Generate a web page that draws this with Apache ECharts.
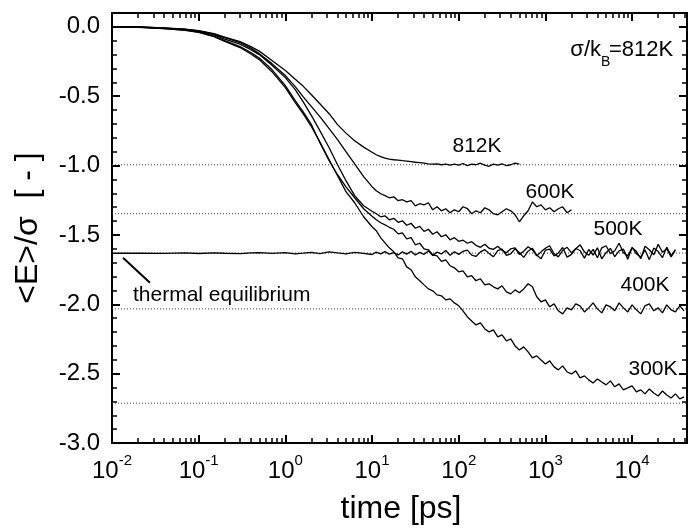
<!DOCTYPE html>
<html><head><meta charset="utf-8">
<script src="https://cdn.jsdelivr.net/npm/echarts@6/dist/echarts.min.js"></script>
<style>html,body{margin:0;padding:0;background:#fff}#c{width:688px;height:530px}</style>
</head><body><div id="c"></div>
<script>
// time grid [ps]
const times = [0.01,0.02,0.04,0.07,0.1,0.15,0.2,0.3,0.4,0.5,0.7,1,1.3,1.6,2,2.5,3.2,4,5,6.3,8,
10,11.2,12.6,14.1,15.8,17.8,20,22.4,25.1,28.2,31.6,35.5,39.8,44.7,50.1,56.2,63.1,70.8,79.4,89.1,
100,112,126,141,158,178,200,224,251,282,316,355,398,447,501,562,631,708,794,891,
1000,1120,1260,1410,1580,1780,2000,2240,2510,2820,3160,3550,3980,4470,5010,5620,6310,7080,7940,8910,
10000,11200,12600,14100,15800,17800,20000,22400,25100,28200,31600,35500,39800];

const e812 = [0,-0.001,-0.007,-0.016,-0.027,-0.048,-0.074,-0.106,-0.142,-0.175,-0.243,-0.315,-0.377,-0.427,-0.489,-0.554,-0.626,-0.705,-0.766,-0.821,-0.867,
-0.904,-0.922,-0.936,-0.947,-0.954,-0.958,-0.961,-0.965,-0.968,-0.972,-0.976,-0.979,-0.983,-0.987,-0.990,-0.987,-0.994,-0.990,-0.997,-0.990,
-0.997,-0.985,-1.001,-0.990,-0.994,-0.983,-0.997,-1.005,-0.990,-0.997,-0.987,-1.001,-0.994,-0.983,-0.990];

const e600 = [0,-0.001,-0.009,-0.018,-0.029,-0.052,-0.077,-0.113,-0.153,-0.193,-0.265,-0.351,-0.431,-0.503,-0.575,-0.647,-0.734,-0.813,-0.900,-0.987,-1.080,
-1.152,-1.181,-1.203,-1.217,
-1.232,-1.225,-1.253,-1.246,-1.262,-1.253,-1.290,-1.275,-1.283,-1.268,
-1.319,-1.297,-1.326,-1.311,-1.340,-1.319,-1.333,-1.297,-1.311,-1.347,
-1.326,-1.340,-1.304,-1.319,-1.347,-1.355,-1.333,-1.311,-1.326,-1.355,
-1.405,-1.362,-1.326,-1.262,-1.297,-1.283,-1.319,-1.304,-1.333,-1.311,
-1.297,-1.340,-1.319];

const e500 = [0,-0.001,-0.009,-0.019,-0.032,-0.058,-0.088,-0.124,-0.164,-0.200,-0.276,-0.366,-0.452,-0.539,-0.640,-0.748,-0.871,-0.994,-1.109,-1.217,-1.290,
-1.329,-1.347,-1.369,-1.362,-1.391,-1.380,-1.409,-1.398,-1.430,-1.416,-1.452,-1.438,-1.474,-1.459,-1.495,-1.477,-1.513,-1.499,-1.535,
-1.520,-1.546,-1.538,-1.560,-1.549,-1.575,-1.589,-1.567,-1.596,-1.604,
-1.582,-1.611,-1.629,-1.600,-1.593,-1.640,-1.618,-1.585,-1.607,-1.651,
-1.622,-1.596,-1.578,-1.636,-1.658,-1.611,-1.589,-1.629,-1.600,-1.571,
-1.622,-1.647,-1.604,-1.665,-1.593,-1.578,-1.636,-1.614,-1.560,-1.629,
-1.651,-1.593,-1.618,-1.672,-1.582,-1.607,-1.643,-1.567,-1.625,-1.600,
-1.658,-1.611];

const eThermal = [-1.632,-1.631,-1.633,-1.630,-1.634,-1.629,-1.632,-1.635,-1.630,-1.627,-1.633,-1.628,-1.636,-1.631,-1.625,-1.634,-1.622,-1.630,-1.637,-1.626,-1.633,
-1.641,-1.624,-1.636,-1.620,-1.639,-1.627,-1.644,-1.622,-1.638,-1.618,-1.645,-1.626,-1.640,-1.615,-1.648,-1.624,-1.637,-1.612,-1.646,-1.621,
-1.640,-1.618,-1.609,-1.645,-1.655,-1.622,-1.606,-1.633,-1.658,-1.613,
-1.603,-1.647,-1.636,-1.600,-1.628,-1.662,-1.617,-1.596,-1.645,-1.671,
-1.610,-1.603,-1.652,-1.630,-1.590,-1.660,-1.640,-1.598,-1.612,-1.667,
-1.605,-1.645,-1.593,-1.672,-1.628,-1.597,-1.657,-1.615,-1.602,-1.675,
-1.590,-1.636,-1.660,-1.608,-1.678,-1.595,-1.620,-1.664,-1.588,-1.650,
-1.605];

const e400 = [0,-0.002,-0.012,-0.024,-0.038,-0.066,-0.099,-0.142,-0.185,-0.225,-0.308,-0.424,-0.532,-0.611,-0.705,-0.835,-0.965,-1.066,-1.153,-1.232,-1.311,
-1.365,-1.390,-1.412,-1.427,-1.445,-1.459,-1.492,-1.485,-1.528,-1.520,-1.571,-1.560,-1.600,-1.607,-1.643,-1.651,-1.690,-1.679,-1.722,-1.737,
-1.766,-1.759,-1.802,-1.794,-1.830,-1.816,-1.860,-1.852,-1.874,-1.889,-1.867,-1.910,-1.925,-1.896,-1.917,-1.889,-1.852,-1.874,-1.946,-1.982,
-1.968,-2.018,-1.997,-2.047,-2.069,-2.026,-2.040,-1.997,-2.011,-2.055,-2.026,-1.990,-2.033,-2.062,-2.004,-2.018,-2.047,-1.990,-2.026,-2.055,
-2.004,-2.040,-2.069,-2.011,-1.997,-2.047,-2.026,-2.062,-2.004,-2.040,-2.055,-2.011,-2.047];

const e300 = [0,-0.003,-0.012,-0.025,-0.040,-0.070,-0.105,-0.149,-0.196,-0.236,-0.323,-0.438,-0.546,-0.626,-0.720,-0.828,-0.958,-1.073,-1.188,-1.268,-1.369,
-1.441,-1.470,-1.521,-1.557,-1.593,-1.622,-1.665,-1.672,-1.730,-1.751,-1.802,-1.830,-1.860,-1.889,-1.903,-1.932,-1.939,-1.968,-1.961,-1.990,
-2.011,-2.047,-2.091,-2.120,-2.149,-2.134,-2.178,-2.199,-2.185,-2.235,-2.221,-2.264,-2.250,-2.300,-2.329,-2.307,-2.343,-2.386,-2.372,-2.401,
-2.430,-2.408,-2.451,-2.473,-2.444,-2.488,-2.502,-2.480,-2.531,-2.516,-2.545,-2.567,-2.538,-2.560,-2.581,-2.552,-2.595,-2.574,-2.617,-2.603,
-2.588,-2.632,-2.617,-2.646,-2.610,-2.639,-2.661,-2.625,-2.654,-2.675,-2.646,-2.682,-2.668];

// equilibrium energies (dotted reference lines)
const eqLevels = [-0.994, -1.347, -1.631, -2.033, -2.713];
const curveNames = ['812K', '600K', '500K', '400K', '300K'];
const xDecades = [0.01, 0.1, 1, 10, 100, 1000, 10000];
const xRange = [0.01, 43000];
const yRange = [-3.0, 0.1];
const yStep = 0.5;
const arrowFrom = [0.0134, -1.665];
const arrowTo = [0.0274, -1.845];

const FONT = '"Liberation Sans", Arial, Helvetica, sans-serif';

function pairs(arr) {
  const out = [];
  for (let i = 0; i < arr.length; i++) if (arr[i] !== null) out.push([times[i], arr[i]]);
  return out;
}
function xLab(v) {
  const e = Math.log10(v); const r = Math.round(e);
  if (Math.abs(e - r) > 1e-6) return '';
  return '{b|10}{s|' + r + '}';
}
function yLab(v) {
  const k = Math.round(v / yStep);
  if (Math.abs(v - k * yStep) > 1e-6) return '';
  return (Math.abs(v) < 1e-9 ? 0 : v).toFixed(1);
}

const solid = { color: '#000', width: 1.3 };
const xBase = {
  type: 'log', logBase: 10, min: xRange[0], max: xRange[1], gridIndex: 0,
  splitLine: { show: false },
  axisLine: { show: true, onZero: false, lineStyle: { color: '#000', width: 2 } },
  axisTick: { show: true, inside: true, length: 8, lineStyle: { color: '#000', width: 2 } },
  minorTick: { show: true, splitNumber: 9, length: 5, lineStyle: { color: '#000', width: 1.5 } }
};
const yBase = {
  type: 'value', min: yRange[0], max: yRange[1], interval: yStep, gridIndex: 0,
  splitLine: { show: false },
  axisLine: { show: true, onZero: false, lineStyle: { color: '#000', width: 2 } },
  axisTick: { show: true, inside: true, length: 8, lineStyle: { color: '#000', width: 2 } },
  minorTick: { show: true, splitNumber: 5, length: 5, lineStyle: { color: '#000', width: 1.5 } }
};

const series = [];
eqLevels.forEach(function (lv) {
  series.push({ type: 'line', symbol: 'none', silent: true, z: 1,
    data: [[xRange[0], lv], [xRange[1], lv]],
    lineStyle: { color: '#444', width: 1, type: [1, 2] } });
});
series.push({ name: 'thermal', type: 'line', symbol: 'none', silent: true, z: 3,
  data: pairs(eThermal), lineStyle: solid,
  markLine: { silent: true, symbol: ['none', 'none'], label: { show: false },
    lineStyle: { color: '#000', width: 2, type: 'solid' },
    data: [[{ coord: arrowFrom }, { coord: arrowTo }]] } });
[e812, e600, e500, e400, e300].forEach(function (arr, i) {
  series.push({ name: curveNames[i], type: 'line', symbol: 'none', silent: true, z: 3,
    data: pairs(arr), lineStyle: solid });
});

function txt(x, y, s, size, align, extra) {
  return Object.assign({ type: 'text', x: x, y: y, z: 100,
    style: { text: s, font: size + 'px ' + FONT, fill: '#000',
      align: align || 'center', verticalAlign: 'middle',
      textAlign: align || 'center', textVerticalAlign: 'middle' } }, extra || {});
}

const chart = echarts.init(document.getElementById('c'), null, { renderer: 'canvas' });
chart.setOption({
  animation: false,
  backgroundColor: '#fff',
  grid: { left: 112, right: 1, top: 13, bottom: 87, containLabel: false, outerBoundsMode: 'none' },
  xAxis: [
    Object.assign({}, xBase, { position: 'bottom',
      axisLabel: { customValues: xDecades, formatter: xLab, margin: 10, color: '#000', fontFamily: FONT,
        rich: { b: { fontSize: 24, fontFamily: FONT, lineHeight: 30, verticalAlign: 'bottom' },
                s: { fontSize: 15, fontFamily: FONT, lineHeight: 30, verticalAlign: 'top' } } } }),
    Object.assign({}, xBase, { position: 'top', axisLabel: { show: false } })
  ],
  yAxis: [
    Object.assign({}, yBase, { position: 'left',
      axisLabel: { formatter: yLab, showMaxLabel: false, margin: 12, fontSize: 24, color: '#000', fontFamily: FONT } }),
    Object.assign({}, yBase, { position: 'right', axisLabel: { show: false } })
  ],
  series: series,
  graphic: [
    txt(401, 509, 'time [ps]', 32),
    txt(28, 228, '<E>/σ  [ - ]', 32, 'center', { rotation: Math.PI / 2 }),
    txt(477, 146, curveNames[0], 21),
    txt(550, 192, curveNames[1], 21),
    txt(618, 229, curveNames[2], 21),
    txt(645, 285, curveNames[3], 21),
    txt(653, 369, curveNames[4], 21),
    txt(133, 295, 'thermal equilibrium', 21, 'left'),
    txt(601, 50, 'σ/k', 22, 'right'),
    txt(601, 62, 'B', 14, 'left'),
    txt(609, 50, '=812K', 22, 'left')
  ]
});
</script>
</body></html>
